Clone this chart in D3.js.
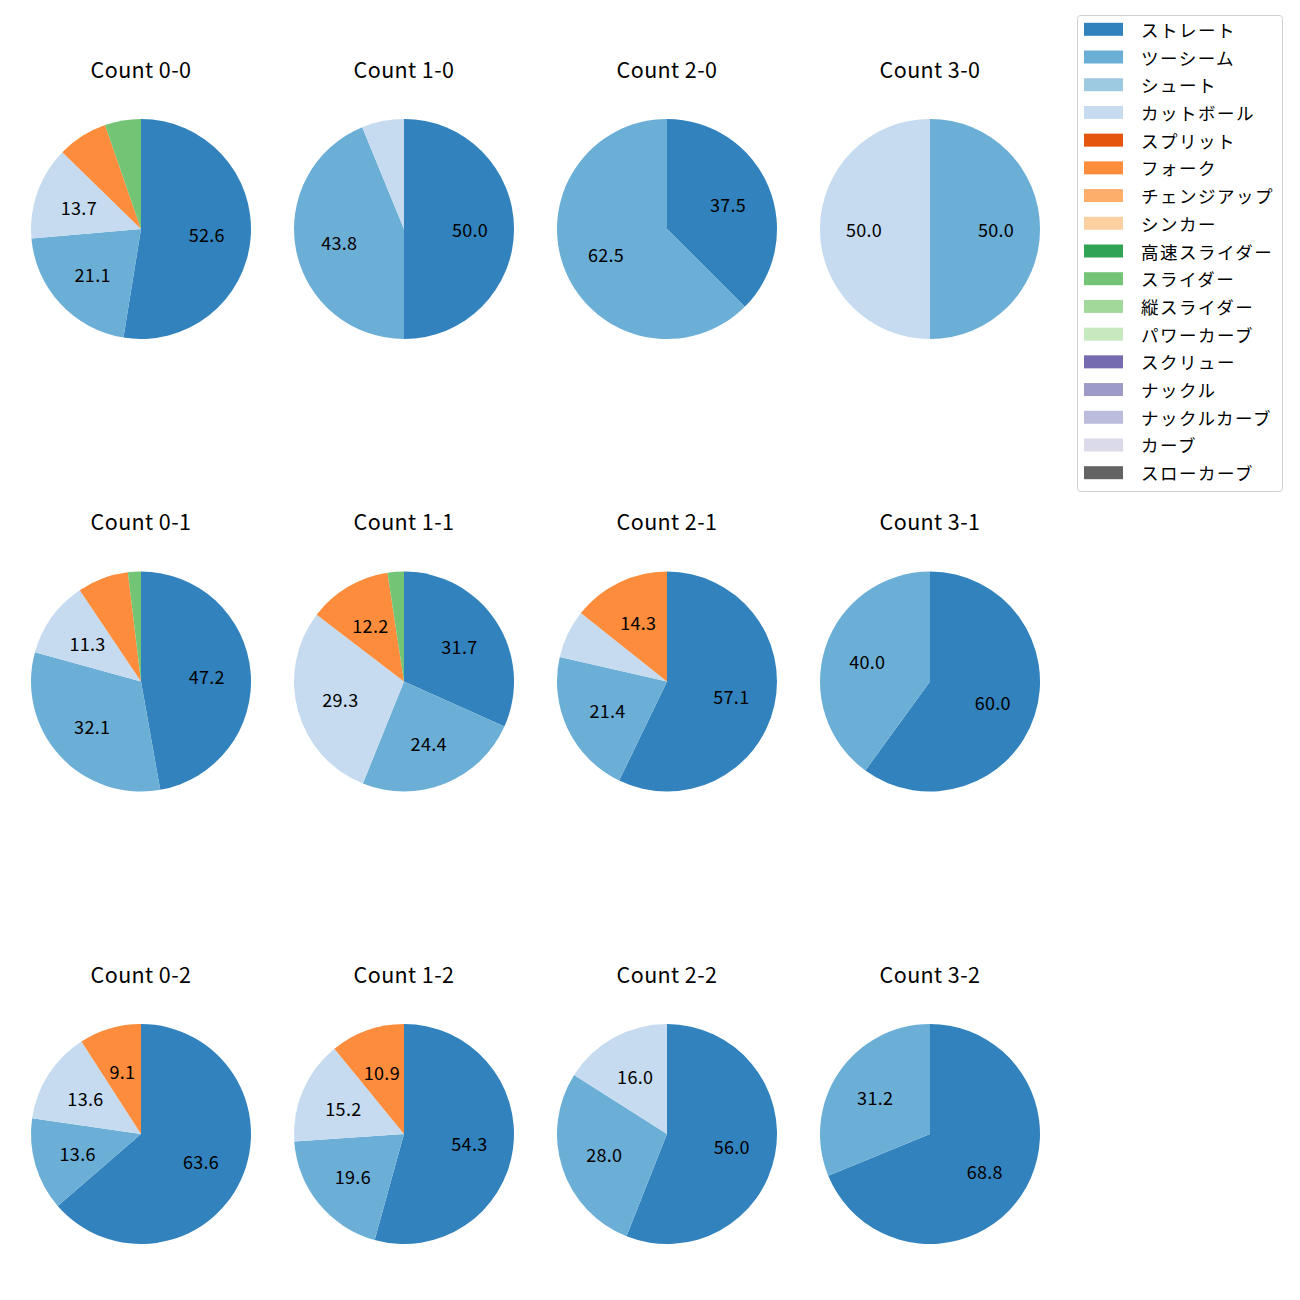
<!DOCTYPE html>
<html>
<head>
<meta charset="utf-8">
<script src="https://cdn.jsdelivr.net/npm/d3@7"></script>
<style>
  html, body { margin: 0; padding: 0; background: #ffffff; }
  svg { display: block; }
  text { font-family: "Noto Sans CJK JP", "Noto Sans", sans-serif; fill: #000; }
</style>
</head>
<body>
<svg id="chart" width="1300" height="1300"></svg>
<script>
// Pitch types (legend order) and their colours
const pitchTypes = ["ストレート","ツーシーム","シュート","カットボール","スプリット","フォーク","チェンジアップ","シンカー","高速スライダー","スライダー","縦スライダー","パワーカーブ","スクリュー","ナックル","ナックルカーブ","カーブ","スローカーブ"];
const pitchColors = ["#3182bd","#6baed6","#9ecae1","#c6dbef","#e6550d","#fd8d3c","#fdae6b","#fdd0a2","#31a354","#74c476","#a1d99b","#c7e9c0","#756bb1","#9e9ac8","#bcbddc","#dadaeb","#636363"];

// Ball-strike counts, row by row
const countLabels = ["0-0","1-0","2-0","3-0","0-1","1-1","2-1","3-1","0-2","1-2","2-2","3-2"];

// Share (%) of each pitch type per count, in pitchTypes order
// [ストレート, ツーシーム, シュート, カットボール, スプリット, フォーク, ..., スライダー]
const share00 = [52.6, 21.1, 0, 13.7, 0, 7.4, 0, 0, 0, 5.3, 0, 0, 0, 0, 0, 0, 0];
const share10 = [50.0, 43.8, 0, 6.2, 0, 0, 0, 0, 0, 0, 0, 0, 0, 0, 0, 0, 0];
const share20 = [37.5, 62.5, 0, 0, 0, 0, 0, 0, 0, 0, 0, 0, 0, 0, 0, 0, 0];
const share30 = [0, 50.0, 0, 50.0, 0, 0, 0, 0, 0, 0, 0, 0, 0, 0, 0, 0, 0];
const share01 = [47.2, 32.1, 0, 11.3, 0, 7.5, 0, 0, 0, 1.9, 0, 0, 0, 0, 0, 0, 0];
const share11 = [31.7, 24.4, 0, 29.3, 0, 12.2, 0, 0, 0, 2.4, 0, 0, 0, 0, 0, 0, 0];
const share21 = [57.1, 21.4, 0, 7.1, 0, 14.3, 0, 0, 0, 0, 0, 0, 0, 0, 0, 0, 0];
const share31 = [60.0, 40.0, 0, 0, 0, 0, 0, 0, 0, 0, 0, 0, 0, 0, 0, 0, 0];
const share02 = [63.6, 13.6, 0, 13.6, 0, 9.1, 0, 0, 0, 0, 0, 0, 0, 0, 0, 0, 0];
const share12 = [54.3, 19.6, 0, 15.2, 0, 10.9, 0, 0, 0, 0, 0, 0, 0, 0, 0, 0, 0];
const share22 = [56.0, 28.0, 0, 16.0, 0, 0, 0, 0, 0, 0, 0, 0, 0, 0, 0, 0, 0];
const share32 = [68.8, 31.2, 0, 0, 0, 0, 0, 0, 0, 0, 0, 0, 0, 0, 0, 0, 0];
const shares = [share00, share10, share20, share30, share01, share11, share21, share31, share02, share12, share22, share32];

const labelThreshold = 8; // percentages below this are not labelled

const svg = d3.select("#chart");
const colX = d3.scalePoint().domain([0,1,2,3]).range([141, 930]);
const rowY = d3.scalePoint().domain([0,1,2]).range([229, 1134]);
const color = d3.scaleOrdinal().domain(pitchTypes).range(pitchColors);
const radius = 110;

const pie = d3.pie().sort(null).value(d => d.v).startAngle(0).endAngle(2 * Math.PI);
const arc = d3.arc().innerRadius(0).outerRadius(radius);
const labelArc = d3.arc().innerRadius(radius * 0.6).outerRadius(radius * 0.6);

countLabels.forEach((c, i) => {
  const col = i % 4, row = Math.floor(i / 4);
  const cx = colX(col), cy = rowY(row);
  const g = svg.append("g").attr("transform", `translate(${cx},${cy})`);
  const data = pitchTypes.map((p, k) => ({p, v: shares[i][k]})).filter(d => d.v > 0);
  const arcs = pie(data);
  g.selectAll("path.slice").data(arcs).enter().append("path")
    .attr("class", "slice")
    .attr("d", arc)
    .attr("fill", d => color(d.data.p));
  g.selectAll("text.pct").data(arcs.filter(d => d.data.v >= labelThreshold)).enter().append("text")
    .attr("class", "pct")
    .attr("transform", d => `translate(${labelArc.centroid(d)})`)
    .attr("text-anchor", "middle")
    .attr("dominant-baseline", "central")
    .style("font-size", "18px")
    .style("letter-spacing", "0.3px")
    .text(d => d.data.v.toFixed(1));
  svg.append("text")
    .attr("x", cx).attr("y", cy - 161)
    .attr("text-anchor", "middle")
    .attr("dominant-baseline", "central")
    .style("font-size", "21.5px")
    .style("letter-spacing", "0.4px")
    .text("Count " + c);
});

// Legend
const legend = svg.append("g");
legend.append("rect")
  .attr("x", 1077.5).attr("y", 15.5).attr("width", 205).attr("height", 476)
  .attr("rx", 3).attr("fill", "#fff").attr("stroke", "#d0d0d0").attr("stroke-width", 1);
const legY = d3.scaleLinear().domain([0, pitchTypes.length - 1]).range([29.3, 472.7]);
pitchTypes.forEach((p, k) => {
  legend.append("rect")
    .attr("x", 1084).attr("y", legY(k) - 6.5).attr("width", 39).attr("height", 13)
    .attr("fill", color(p));
  legend.append("text")
    .attr("x", 1141).attr("y", legY(k))
    .attr("dominant-baseline", "central")
    .style("font-size", "17.5px")
    .style("letter-spacing", "1.5px")
    .text(p);
});
</script>
</body>
</html>
